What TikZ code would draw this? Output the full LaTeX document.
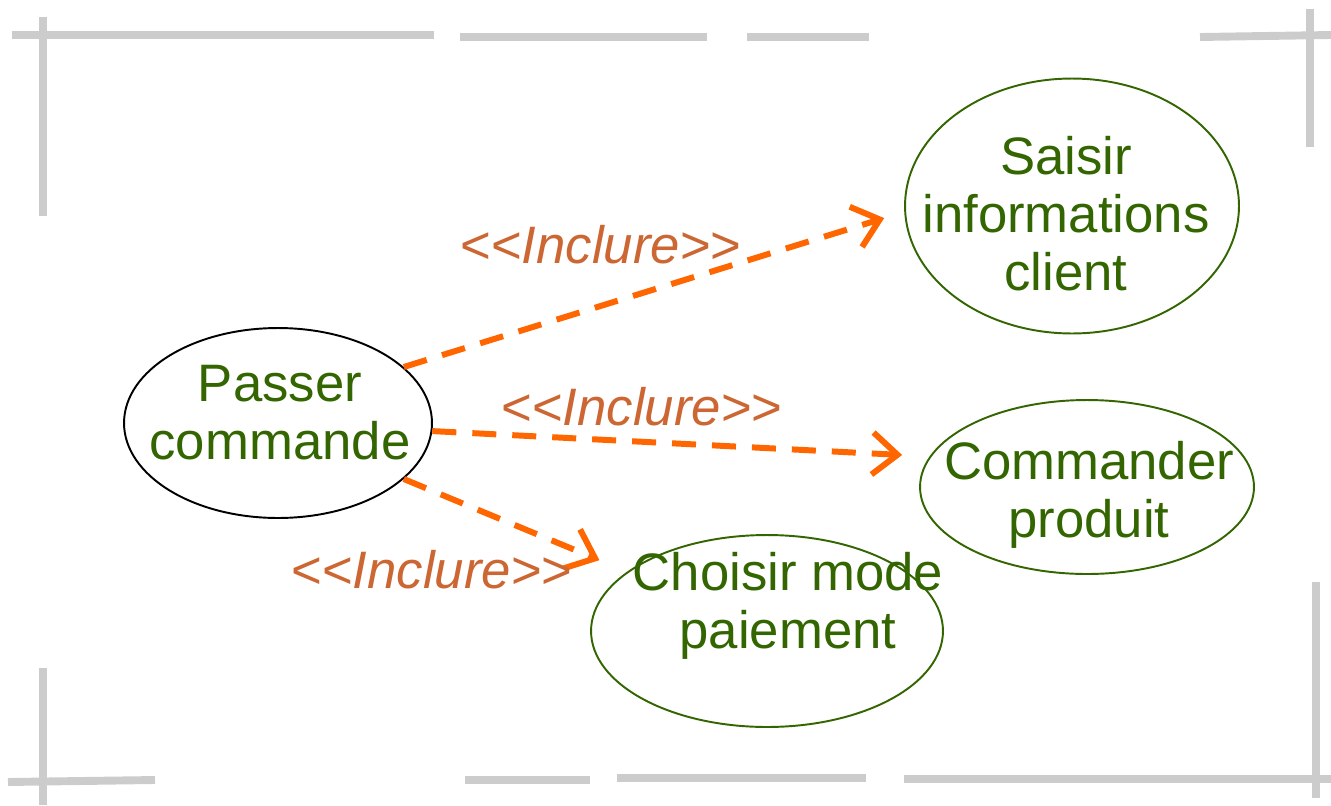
\documentclass[tikz,border=0pt]{standalone}
\usepackage{fontspec}
\setmainfont{Liberation Sans}
\usetikzlibrary{arrows.meta,shapes.geometric,positioning}

\definecolor{leafgreen}{HTML}{336600}
\definecolor{inclorange}{HTML}{FF6600}
\definecolor{incltext}{HTML}{CC6633}
\definecolor{framegray}{HTML}{CCCCCC}

\tikzset{
  usecase/.style={ellipse, draw=leafgreen, line width=1.1pt, inner sep=0pt},
  casetext/.style={text=leafgreen, align=center, inner sep=0pt, font=\fontsize{30}{33}\selectfont},
  include/.style={draw=inclorange, line width=3.4pt, dash pattern=on 0.48cm off 0.32cm,
                  -{Straight Barb[length=0.5cm, width=0.84cm]}},
  incltag/.style={text=incltext, anchor=base, inner sep=0pt, font=\fontsize{30}{33}\selectfont},
  framepart/.style={draw=framegray, line width=4.5pt}
}

\begin{document}
\begin{tikzpicture}[x=0.02cm, y=-0.02cm]
        \useasboundingbox (0, 0) rectangle (1331, 805);

        % broken frame
        \foreach \xa/\ya/\xb/\yb in {12/35/434/35, 460/37/707/37, 747/37/869/37, 1200/37/1331/35,
                43/17/43/216, 1310/9/1310/147, 43/668/43/805, 8/782/155/780,
                465/780/590/780, 617/778/866/778, 904/779/1331/779, 1316/582/1316/798}
                \draw[framepart] (\xa, \ya) -- (\xb, \yb);

        % use cases
        \node[usecase, draw=black, minimum width=6.16cm, minimum height=3.8cm] (passer) at (278, 423) {};
        \node[usecase, minimum width=6.68cm, minimum height=5.1cm] (saisir) at (1072, 206) {};
        \node[usecase, minimum width=6.68cm, minimum height=3.48cm] (commander) at (1087, 487) {};
        \node[usecase, minimum width=7.04cm, minimum height=3.84cm] (choisir) at (767, 631) {};

        \node[casetext] (passertxt) at ([shift={(2, -10)}]passer.center) {Passer\\commande};
        \node[casetext] (saisirtxt) at ([shift={(-6, 8)}]saisir.center) {Saisir\\informations\\client};
        \node[casetext] (commandertxt) at ([shift={(2, 8)}]commander.center) {Commander\\produit};
        \node[casetext] (choisirtxt) at ([shift={(21, -25)}]choisir.center) {Choisir mode\\paiement};

        % include relations
        \draw[include, shorten >=0.42cm] (passer.24) -- (saisir.182);
        \draw[include, shorten >=0.55cm] (passer.-3) -- (commander.169);
        \draw[include, shorten >=0.6cm] (passer.-24) -- (choisir.157);

        \node[incltag] (incl1) at (601, 263) {<{}<\textit{Inclure}>{}>};
        \node[incltag] (incl2) at (642, 425) {<{}<\textit{Inclure}>{}>};
        \node[incltag] (incl3) at (432, 588) {<{}<\textit{Inclure}>{}>};
\end{tikzpicture}
\end{document}
